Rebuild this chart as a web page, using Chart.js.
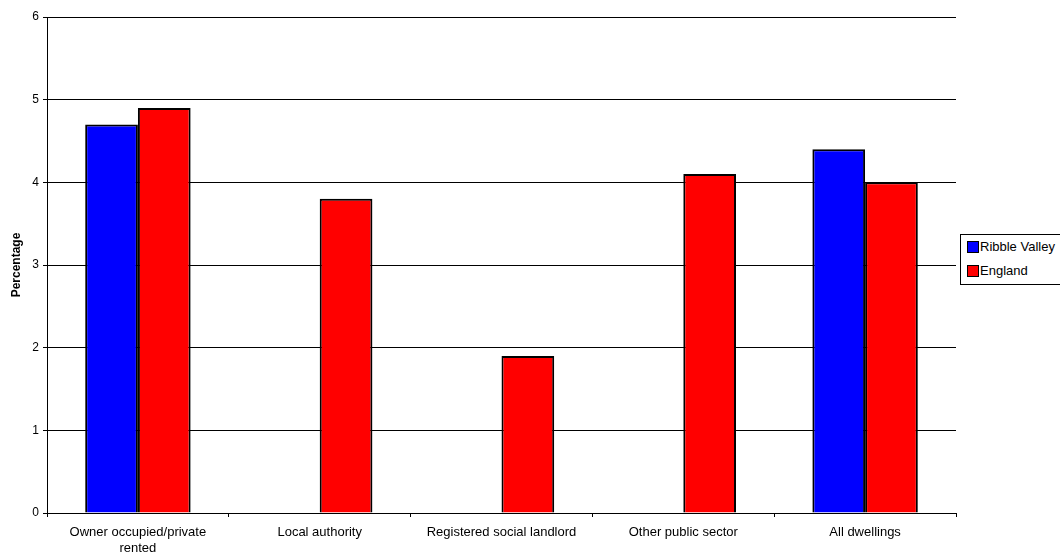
<!DOCTYPE html>
<html>
<head>
<meta charset="utf-8">
<script src="https://cdn.jsdelivr.net/npm/chart.js@4.4.1/dist/chart.umd.min.js"></script>
<style>
    html, body { margin: 0; padding: 0; background: #fff; overflow: hidden; }
    #wrap { position: relative; width: 1060px; height: 554px; }
    #legend {
        position: absolute; left: 960px; top: 234px; width: 110px; height: 51px;
        border: 1px solid #000; box-sizing: border-box; background: #fff;
        font-family: "Liberation Sans", Arial, sans-serif; font-size: 13px; color: #000;
    }
    .item { position: absolute; left: 6px; height: 14px; line-height: 14px; white-space: nowrap; }
    .swatch { display: inline-block; width: 10px; height: 10px; border: 1px solid #000; vertical-align: -2px; margin-right: 1px; }
</style>
</head>
<body>
<div id="wrap">
    <canvas id="chart" width="1060" height="554"></canvas>
    <div id="legend"></div>
</div>
<script>
// --- DATA ---
const categories = [
    ['Owner occupied/private', 'rented'],
    'Local authority',
    'Registered social landlord',
    'Other public sector',
    'All dwellings'
];
const ribbleValley = [4.7, null, null, null, 4.4];
const england = [4.9, 3.8, 1.9, 4.1, 4.0];
const yTicks = [0, 1, 2, 3, 4, 5, 6];

const seriesNames = ['Ribble Valley', 'England'];
const seriesColors = ['#0000ff', '#ff0000'];

// --- LEGEND (html) ---
const legend = document.getElementById('legend');
legend.innerHTML = seriesNames.map((name, i) => `
    <div class="item" style="top:${5 + i * 24}px">
        <span class="swatch" style="background:${seriesColors[i]}"></span>${name}
    </div>
`).join('');

// --- CHART ---
const FONT = "'Liberation Sans', Arial, sans-serif";
const ctx = document.getElementById('chart').getContext('2d');

new Chart(ctx, {
    type: 'bar',
    data: {
        labels: categories,
        datasets: [
            { label: seriesNames[0], data: ribbleValley, backgroundColor: seriesColors[0], borderColor: '#000', borderWidth: 2 },
            { label: seriesNames[1], data: england, backgroundColor: seriesColors[1], borderColor: '#000', borderWidth: 2 }
        ]
    },
    options: {
        responsive: false,
        animation: false,
        categoryPercentage: 0.58,
        barPercentage: 1.0,
        layout: { padding: { left: 0, right: 104, top: 17, bottom: 0 } },
        plugins: {
            legend: { display: false },
            tooltip: { enabled: false }
        },
        scales: {
            x: {
                grid: { display: true, drawOnChartArea: false, offset: true, color: '#000', tickLength: 4, tickColor: '#000' },
                border: { color: '#000', width: 1 },
                ticks: { color: '#000', font: { family: FONT, size: 13, lineHeight: 1.25 }, maxRotation: 0, autoSkip: false, padding: 7 },
                afterFit: (scale) => { scale.height = 41; }
            },
            y: {
                min: 0,
                max: 6,
                afterBuildTicks: (scale) => { scale.ticks = yTicks.map(v => ({ value: v })); },
                grid: { color: '#000', lineWidth: 1, tickLength: 4, tickColor: '#000' },
                border: { color: '#000', width: 1 },
                ticks: { color: '#000', font: { family: FONT, size: 12 }, padding: 4 },
                title: { display: true, text: 'Percentage', color: '#000', font: { family: FONT, size: 12, weight: 'bold' }, padding: { top: 9, bottom: 2 } },
                afterFit: (scale) => { scale.width = 47; }
            }
        }
    }
});
</script>
</body>
</html>
